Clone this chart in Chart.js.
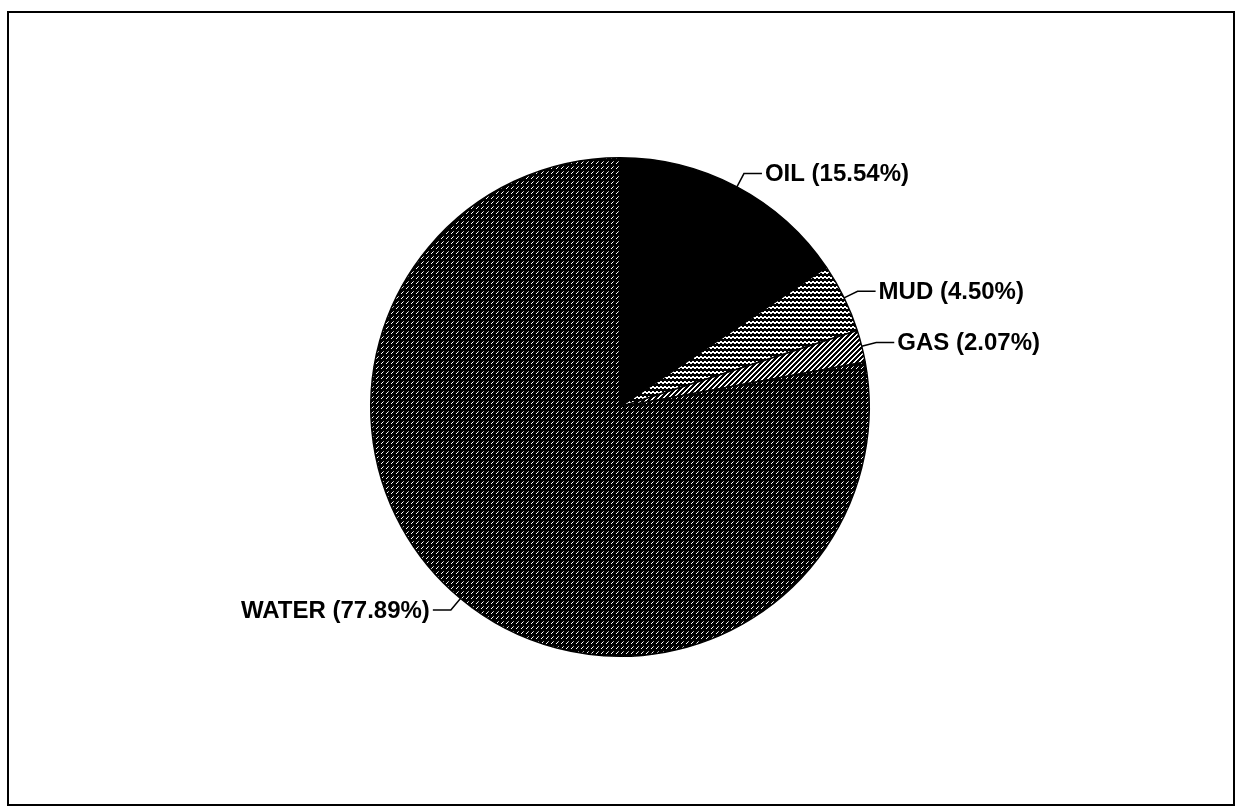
<!DOCTYPE html>
<html>
<head>
<meta charset="utf-8">
<script src="https://cdn.jsdelivr.net/npm/chart.js@4"></script>
<style>
  html, body { margin: 0; padding: 0; background: #fff; }
  canvas { display: block; }
</style>
</head>
<body>
<canvas id="pieChart" width="1237" height="811"></canvas>
<script>
const categories = ['OIL', 'MUD', 'GAS', 'WATER'];
const shares = [15.54, 4.50, 2.07, 77.89];

// small tile patterns like the old printed hatch fills
function makePattern(w, h, paint) {
    const tile = document.createElement('canvas');
    tile.width = w;
    tile.height = h;
    const t = tile.getContext('2d');
    t.fillStyle = '#000';
    t.fillRect(0, 0, w, h);
    paint(t);
    return t.createPattern(tile, 'repeat');
}

const waterFill = makePattern(5, 5, t => {
    t.fillStyle = '#fff';
    t.fillRect(1, 3, 1, 1);
    t.fillRect(2, 2, 1, 1);
    t.fillStyle = '#aaa';
    t.fillRect(3, 1, 1, 1);
});

const mudFill = makePattern(4, 5, t => {
    t.fillStyle = '#fff';
    t.fillRect(0, 1, 2, 1);
    t.fillRect(0, 2, 4, 1);
    t.fillRect(2, 3, 2, 1);
});

const gasFill = makePattern(5, 5, t => {
    t.fillStyle = '#fff';
    for (let x = 0; x < 5; x++) {
        for (let y = 0; y < 5; y++) {
            if ((x + y) % 5 < 2) t.fillRect(x, y, 1, 1);
        }
    }
});

const fills = ['#000', mudFill, gasFill, waterFill];

// leader lines + labels, started at each slice's middle angle
const leaderLabels = {
    id: 'leaderLabels',
    afterDatasetsDraw(chart) {
        const ctx = chart.ctx;
        const meta = chart.getDatasetMeta(0);
        ctx.save();
        ctx.strokeStyle = '#000';
        ctx.lineWidth = 1.5;
        ctx.fillStyle = '#000';
        ctx.font = 'bold 24px "Liberation Sans", Arial, sans-serif';
        ctx.textBaseline = 'middle';
        meta.data.forEach((arc, i) => {
            const p = arc.getProps(['x', 'y', 'startAngle', 'endAngle', 'outerRadius'], true);
            const mid = (p.startAngle + p.endAngle) / 2;
            const cx = Math.cos(mid), cy = Math.sin(mid);
            const x0 = p.x + cx * p.outerRadius;
            const y0 = p.y + cy * p.outerRadius;
            const x1 = x0 + cx * 15;
            const y1 = y0 + cy * 15;
            const dir = cx >= 0 ? 1 : -1;
            const x2 = x1 + dir * 18;
            ctx.beginPath();
            ctx.moveTo(x0, y0);
            ctx.lineTo(x1, y1);
            ctx.lineTo(x2, y1);
            ctx.stroke();
            const text = categories[i] + ' (' + shares[i].toFixed(2) + '%)';
            ctx.textAlign = dir > 0 ? 'left' : 'right';
            ctx.fillText(text, x2 + dir * 3, y1 + 1);
        });
        ctx.restore();
    }
};

const frame = {
    id: 'frame',
    afterDraw(chart) {
        const ctx = chart.ctx;
        ctx.save();
        ctx.strokeStyle = '#000';
        ctx.lineWidth = 2;
        ctx.strokeRect(8, 12, 1226, 793);
        ctx.restore();
    }
};

new Chart(document.getElementById('pieChart'), {
    type: 'pie',
    data: {
        labels: categories,
        datasets: [{
            data: shares,
            backgroundColor: fills,
            borderColor: '#000',
            borderWidth: 1.5
        }]
    },
    options: {
        responsive: false,
        animation: false,
        layout: { padding: { left: 3, right: 0, top: 157, bottom: 154 } },
        plugins: {
            legend: { display: false },
            tooltip: { enabled: false }
        }
    },
    plugins: [leaderLabels, frame]
});
</script>
</body>
</html>
